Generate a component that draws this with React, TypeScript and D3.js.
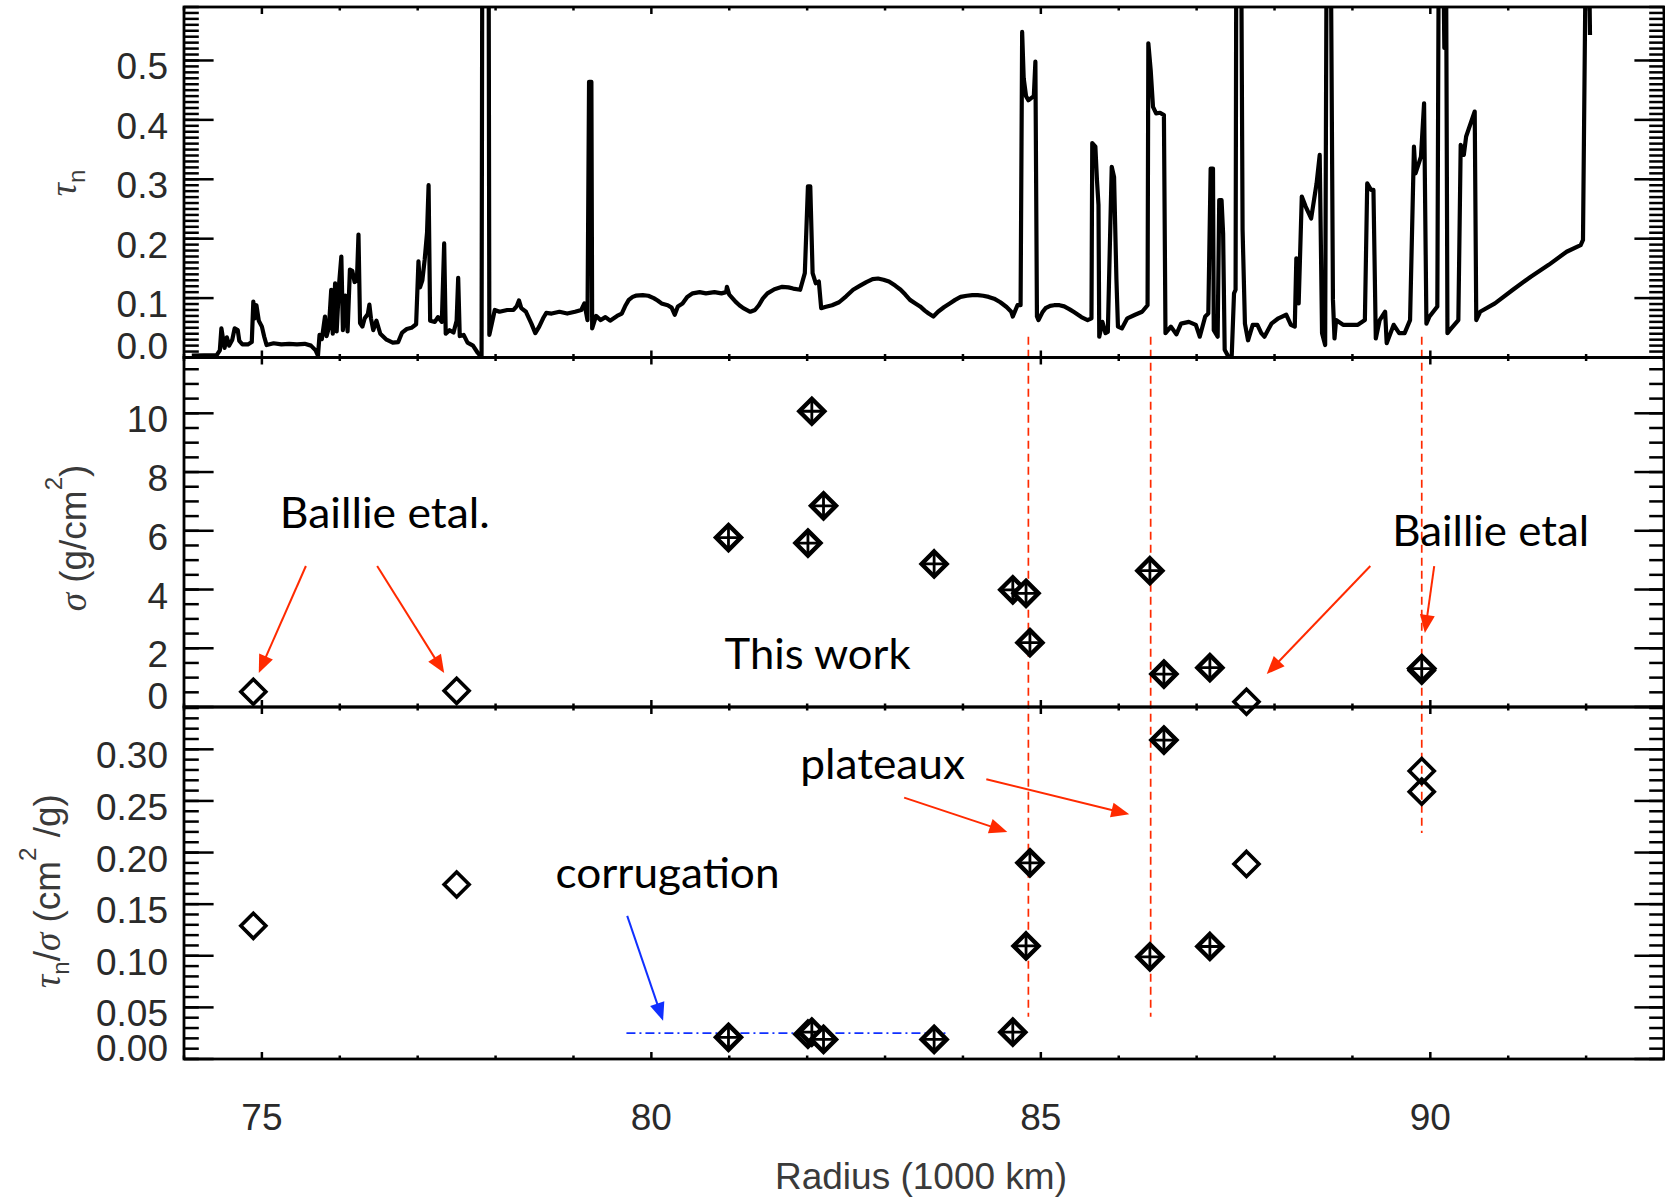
import React from 'react';
import * as d3 from 'd3';

// Normal optical depth profile across the ring: [radius (1000 km), tau_n]
// Values above the panel top are clipped by the plot frame.
const opticalDepthProfile: [number, number][] = [
  [74.10, 0.003], [74.42, 0.004], [74.46, 0.012], [74.48, 0.049], [74.52, 0.016],
  [74.55, 0.034], [74.58, 0.020], [74.62, 0.030], [74.65, 0.049], [74.69, 0.046],
  [74.71, 0.028], [74.75, 0.022], [74.82, 0.022], [74.87, 0.026], [74.89, 0.094],
  [74.91, 0.066], [74.93, 0.088], [74.96, 0.062], [75.00, 0.052], [75.03, 0.035],
  [75.06, 0.021], [75.15, 0.024], [75.25, 0.022], [75.35, 0.023], [75.45, 0.022],
  [75.55, 0.023], [75.63, 0.020], [75.69, 0.012], [75.72, 0.003], [75.74, 0.038],
  [75.77, 0.031], [75.81, 0.069], [75.83, 0.036], [75.86, 0.050], [75.89, 0.114],
  [75.91, 0.040], [75.94, 0.125], [75.96, 0.044], [75.99, 0.122], [76.02, 0.170],
  [76.04, 0.046], [76.07, 0.104], [76.10, 0.044], [76.13, 0.148], [76.16, 0.146],
  [76.19, 0.127], [76.22, 0.130], [76.24, 0.207], [76.26, 0.058], [76.29, 0.052],
  [76.32, 0.066], [76.36, 0.073], [76.38, 0.089], [76.40, 0.066], [76.43, 0.046],
  [76.47, 0.062], [76.52, 0.040], [76.60, 0.030], [76.68, 0.025], [76.75, 0.026],
  [76.80, 0.042], [76.86, 0.048], [76.92, 0.050], [76.98, 0.056], [77.01, 0.162],
  [77.03, 0.118], [77.06, 0.130], [77.09, 0.165], [77.12, 0.210], [77.14, 0.290],
  [77.16, 0.062], [77.22, 0.060], [77.26, 0.068], [77.31, 0.060], [77.34, 0.192],
  [77.36, 0.040], [77.41, 0.046], [77.46, 0.042], [77.50, 0.062], [77.52, 0.134],
  [77.54, 0.036], [77.59, 0.038], [77.64, 0.025], [77.71, 0.020], [77.77, 0.008],
  [77.82, 0.000], [77.83, 0.750], [77.91, 0.750], [77.92, 0.038], [77.99, 0.080],
  [78.05, 0.077], [78.15, 0.080], [78.23, 0.080], [78.27, 0.086], [78.30, 0.096],
  [78.33, 0.083], [78.39, 0.077], [78.46, 0.057], [78.51, 0.041], [78.56, 0.052],
  [78.61, 0.066], [78.65, 0.075], [78.72, 0.074], [78.82, 0.077], [78.92, 0.074],
  [79.02, 0.077], [79.10, 0.080], [79.14, 0.091], [79.18, 0.063], [79.20, 0.464],
  [79.23, 0.464], [79.24, 0.049], [79.29, 0.070], [79.35, 0.063], [79.41, 0.068],
  [79.47, 0.062], [79.56, 0.070], [79.62, 0.074], [79.67, 0.088], [79.71, 0.097],
  [79.76, 0.102], [79.80, 0.104], [79.89, 0.105], [79.96, 0.104], [80.03, 0.100],
  [80.08, 0.096], [80.13, 0.091], [80.21, 0.088], [80.26, 0.084], [80.30, 0.072],
  [80.34, 0.086], [80.40, 0.091], [80.46, 0.102], [80.53, 0.108], [80.62, 0.110],
  [80.70, 0.108], [80.81, 0.110], [80.90, 0.108], [80.96, 0.110], [80.97, 0.119],
  [81.00, 0.106], [81.04, 0.100], [81.08, 0.094], [81.13, 0.088], [81.18, 0.083],
  [81.27, 0.077], [81.33, 0.080], [81.38, 0.088], [81.43, 0.099], [81.49, 0.108],
  [81.58, 0.115], [81.68, 0.119], [81.76, 0.118], [81.82, 0.116], [81.91, 0.114],
  [81.97, 0.142], [82.01, 0.288], [82.04, 0.288], [82.07, 0.142], [82.11, 0.125],
  [82.15, 0.128], [82.18, 0.083], [82.23, 0.085], [82.32, 0.088], [82.41, 0.093],
  [82.50, 0.103], [82.59, 0.114], [82.68, 0.121], [82.76, 0.127], [82.84, 0.132],
  [82.91, 0.133], [82.98, 0.131], [83.05, 0.128], [83.13, 0.121], [83.20, 0.114],
  [83.26, 0.106], [83.32, 0.097], [83.39, 0.091], [83.45, 0.086], [83.51, 0.079],
  [83.56, 0.074], [83.62, 0.069], [83.68, 0.077], [83.76, 0.085], [83.83, 0.091],
  [83.90, 0.097], [83.97, 0.102], [84.05, 0.104], [84.12, 0.105], [84.19, 0.105],
  [84.26, 0.104], [84.33, 0.102], [84.40, 0.099], [84.48, 0.093], [84.56, 0.085],
  [84.62, 0.077], [84.64, 0.069], [84.70, 0.088], [84.74, 0.088], [84.76, 0.548],
  [84.78, 0.470], [84.81, 0.440], [84.84, 0.433], [84.88, 0.437], [84.91, 0.440],
  [84.93, 0.498], [84.95, 0.069], [84.97, 0.063], [85.02, 0.076], [85.06, 0.083],
  [85.12, 0.087], [85.17, 0.088], [85.24, 0.088], [85.30, 0.086], [85.37, 0.081],
  [85.43, 0.076], [85.52, 0.068], [85.60, 0.063], [85.65, 0.066], [85.66, 0.361],
  [85.70, 0.355], [85.72, 0.300], [85.74, 0.257], [85.75, 0.035], [85.79, 0.060],
  [85.83, 0.041], [85.86, 0.043], [85.91, 0.321], [85.94, 0.304], [85.97, 0.133],
  [85.99, 0.052], [86.04, 0.049], [86.11, 0.066], [86.21, 0.072], [86.30, 0.077],
  [86.37, 0.088], [86.38, 0.529], [86.41, 0.484], [86.44, 0.422], [86.48, 0.411],
  [86.53, 0.412], [86.58, 0.408], [86.60, 0.041], [86.67, 0.052], [86.74, 0.039],
  [86.80, 0.057], [86.90, 0.060], [86.99, 0.055], [87.04, 0.035], [87.11, 0.069],
  [87.15, 0.074], [87.18, 0.318], [87.21, 0.318], [87.22, 0.046], [87.27, 0.035],
  [87.29, 0.265], [87.32, 0.265], [87.34, 0.209], [87.36, 0.013], [87.41, 0.001],
  [87.45, 0.001], [87.48, 0.108], [87.50, 0.114], [87.51, 0.750], [87.57, 0.750],
  [87.59, 0.215], [87.62, 0.057], [87.66, 0.029], [87.72, 0.055], [87.78, 0.055],
  [87.83, 0.041], [87.87, 0.035], [87.96, 0.057], [88.05, 0.066], [88.15, 0.072],
  [88.21, 0.055], [88.26, 0.052], [88.28, 0.167], [88.31, 0.091], [88.35, 0.271],
  [88.40, 0.254], [88.47, 0.234], [88.54, 0.293], [88.58, 0.341], [88.61, 0.041],
  [88.65, 0.021], [88.67, 0.750], [88.72, 0.750], [88.75, 0.097], [88.77, 0.032],
  [88.79, 0.063], [88.88, 0.055], [88.98, 0.055], [89.07, 0.055], [89.16, 0.063],
  [89.19, 0.293], [89.24, 0.282], [89.27, 0.282], [89.30, 0.032], [89.35, 0.063],
  [89.42, 0.077], [89.44, 0.024], [89.53, 0.055], [89.60, 0.041], [89.67, 0.041],
  [89.74, 0.063], [89.79, 0.355], [89.81, 0.310], [89.88, 0.338], [89.92, 0.428],
  [89.95, 0.057], [89.99, 0.069], [90.09, 0.086], [90.11, 0.750], [90.16, 0.750],
  [90.18, 0.521], [90.20, 0.750], [90.22, 0.041], [90.25, 0.046], [90.36, 0.063],
  [90.39, 0.358], [90.43, 0.341], [90.46, 0.372], [90.57, 0.414], [90.59, 0.063],
  [90.64, 0.077], [90.83, 0.091], [91.06, 0.114], [91.29, 0.136], [91.52, 0.156],
  [91.75, 0.178], [91.93, 0.189], [91.96, 0.198], [92.00, 0.750], [92.03, 0.750],
  [92.05, 0.543],
];

// Surface density estimates from this work
const workRadius = [80.99, 82.01, 82.06, 82.21, 83.63, 84.64, 84.81, 84.86, 86.40, 86.58, 87.17, 89.89];
const workSigma = [5.77, 5.58, 10.07, 6.85, 4.87, 3.99, 3.87, 2.19, 4.64, 1.12, 1.34, 1.31];
const workRatio: (number | null)[] = [0.021, 0.024, 0.026, 0.019, 0.019, 0.026, 0.1095, 0.19, 0.099, 0.309, 0.109, null];

// Baillie et al. values
const baillieRadius = [74.89, 77.50, 87.64, 89.89, 89.89];
const baillieSigma = [0.52, 0.55, 0.18, 1.30, 1.24];
const baillieRatio = [0.129, 0.169, 0.189, 0.279, 0.259];

// Plateau radii and corrugation band
const plateauRadii = [84.84, 86.41, 89.89];
const plateauLineEnds = [0.041, 0.041, 0.219];
const corrugationBand = { from: 79.68, to: 83.81, ratio: 0.025 };

// Tick values
const radiusMajorTicks = [75, 80, 85, 90];
const tauMajorTicks = [0, 0.1, 0.2, 0.3, 0.4, 0.5];
const sigmaMajorTicks = [0, 2, 4, 6, 8, 10];
const ratioMajorTicks = [0, 0.05, 0.1, 0.15, 0.2, 0.25, 0.3];

const W = 1665;
const H = 1199;
const LEFT = 184;
const RIGHT = 1664;
const P1 = [7, 357.5];
const P2 = [357.5, 707];
const P3 = [707, 1059];

const NUM_FONT = '"Liberation Sans", Arial, Helvetica, sans-serif';
const NOTE_FONT = 'Lato, "Open Sans", sans-serif';
const GREEK_FONT = '"Liberation Serif", "DejaVu Serif", serif';
const RED = '#ff2a00';
const BLUE = '#1030ff';

const x = d3.scaleLinear().domain([74, 93]).range([LEFT, RIGHT]);
const yTau = d3.scaleLinear().domain([0, 0.59]).range([P1[1], P1[0]]);
const ySigma = d3.scaleLinear().domain([0, 11.9]).range([P2[1], P2[0]]);
const yRatio = d3.scaleLinear().domain([0, 0.341]).range([P3[1], P3[0]]);

const xMinor = d3.range(74, 93.001, 1);

function diamondPath(r: number) {
  return `M0,${-r}L${r},0L0,${r}L${-r},0Z`;
}
function plusPath(r: number) {
  return `M0,${-r}V${r}M${-r},0H${r}`;
}

function Arrow({ x1, y1, x2, y2, color, width = 2 }: any) {
  const dx = x2 - x1;
  const dy = y2 - y1;
  const len = Math.hypot(dx, dy);
  const ux = dx / len;
  const uy = dy / len;
  const L = 18;
  const hw = 7.5;
  const bx = x2 - ux * L;
  const by = y2 - uy * L;
  const pts = [
    [x2, y2],
    [bx - uy * hw, by + ux * hw],
    [bx + uy * hw, by - ux * hw],
  ];
  return (
    <g>
      <line x1={x1} y1={y1} x2={bx + ux * 2} y2={by + uy * 2} stroke={color} strokeWidth={width} />
      <polygon points={pts.map((p) => p.join(',')).join(' ')} fill={color} />
    </g>
  );
}

function Panel({ yScale, top, bottom, majors, minorStep, fmt, lowLabelUp }: any) {
  const [d0, d1] = yScale.domain();
  const minors = d3.range(d0, d1 + 1e-9, minorStep);
  const yTickMajor = 29.6;
  const yTickMinor = 14.8;
  const xTickMajor = 7;
  const xTickMinor = 3.5;
  return (
    <g>
      {minors.map((v: number, i: number) => (
        <g key={'ym' + i}>
          <line x1={LEFT} x2={LEFT + yTickMinor} y1={yScale(v)} y2={yScale(v)} stroke="#000" strokeWidth={2.5} />
          <line x1={RIGHT} x2={RIGHT - yTickMinor} y1={yScale(v)} y2={yScale(v)} stroke="#000" strokeWidth={2.5} />
        </g>
      ))}
      {majors.map((v: number, i: number) => (
        <g key={'yM' + i}>
          <line x1={LEFT} x2={LEFT + yTickMajor} y1={yScale(v)} y2={yScale(v)} stroke="#000" strokeWidth={2.5} />
          <line x1={RIGHT} x2={RIGHT - yTickMajor} y1={yScale(v)} y2={yScale(v)} stroke="#000" strokeWidth={2.5} />
          <text
            x={168}
            y={i === 0 && lowLabelUp ? yScale(v) + 1.5 : yScale(v) + 19}
            textAnchor="end"
            fontFamily={NUM_FONT}
            fontSize={37}
            fill="#2a2a2a"
          >
            {fmt(v)}
          </text>
        </g>
      ))}
      {xMinor.map((v: number, i: number) => {
        const len = radiusMajorTicks.includes(v) ? xTickMajor : xTickMinor;
        return (
          <g key={'xt' + i}>
            <line x1={x(v)} x2={x(v)} y1={bottom} y2={bottom - len} stroke="#000" strokeWidth={2.5} />
            <line x1={x(v)} x2={x(v)} y1={top} y2={top + len} stroke="#000" strokeWidth={2.5} />
          </g>
        );
      })}
      <rect x={LEFT} y={top} width={RIGHT - LEFT} height={bottom - top} fill="none" stroke="#000" strokeWidth={2.8} />
    </g>
  );
}

function CrossDiamond({ cx, cy }: any) {
  return (
    <g transform={`translate(${cx},${cy})`}>
      <path d={diamondPath(12.5)} fill="#fff" stroke="#000" strokeWidth={4.4} strokeLinejoin="miter" />
      <path d={plusPath(11)} stroke="#000" strokeWidth={2.8} fill="none" />
    </g>
  );
}

function OpenDiamond({ cx, cy }: any) {
  return (
    <g transform={`translate(${cx},${cy})`}>
      <path d={diamondPath(12.5)} fill="none" stroke="#000" strokeWidth={3.6} strokeLinejoin="miter" />
    </g>
  );
}

export default function App() {
  const line = d3
    .line<[number, number]>()
    .x((d) => x(d[0]))
    .y((d) => yTau(d[1]));

  const noteSize = 43;

  return (
    <svg
      width={W}
      height={H}
      viewBox={`0 0 ${W} ${H}`}
      style={{ position: 'absolute', left: 0, top: 0, background: '#fff' }}
    >
      <defs>
        <clipPath id="tauClip">
          <rect x={LEFT} y={P1[0]} width={RIGHT - LEFT} height={P1[1] - P1[0]} />
        </clipPath>
      </defs>
      <rect x={0} y={0} width={W} height={H} fill="#fff" />

      {/* optical depth profile */}
      <path
        d={line(opticalDepthProfile) || ''}
        fill="none"
        stroke="#000"
        strokeWidth={4.2}
        strokeLinejoin="round"
        clipPath="url(#tauClip)"
      />

      {/* plateau markers */}
      {plateauRadii.map((r, i) => (
        <line
          key={'pl' + i}
          x1={x(r)}
          x2={x(r)}
          y1={yTau(0.035)}
          y2={yRatio(plateauLineEnds[i])}
          stroke={RED}
          strokeWidth={1.7}
          strokeDasharray="8,5"
        />
      ))}

      {/* corrugation band */}
      <line
        x1={x(corrugationBand.from)}
        x2={x(corrugationBand.to)}
        y1={yRatio(corrugationBand.ratio)}
        y2={yRatio(corrugationBand.ratio)}
        stroke={BLUE}
        strokeWidth={1.7}
        strokeDasharray="9,4,2,4"
      />

      <Panel yScale={yTau} top={P1[0]} bottom={P1[1]} majors={tauMajorTicks} minorStep={0.01} fmt={d3.format('.1f')} lowLabelUp />
      <Panel yScale={ySigma} top={P2[0]} bottom={P2[1]} majors={sigmaMajorTicks} minorStep={0.5} fmt={d3.format('d')} lowLabelUp />
      <Panel yScale={yRatio} top={P3[0]} bottom={P3[1]} majors={ratioMajorTicks} minorStep={0.01} fmt={d3.format('.2f')} lowLabelUp />

      {/* surface density */}
      {baillieRadius.map((r, i) => (
        <OpenDiamond key={'bs' + i} cx={x(r)} cy={ySigma(baillieSigma[i])} />
      ))}
      {workRadius.map((r, i) => (
        <CrossDiamond key={'ws' + i} cx={x(r)} cy={ySigma(workSigma[i])} />
      ))}

      {/* opacity ratio */}
      {baillieRadius.map((r, i) => (
        <OpenDiamond key={'br' + i} cx={x(r)} cy={yRatio(baillieRatio[i])} />
      ))}
      {workRadius.map((r, i) =>
        workRatio[i] == null ? null : <CrossDiamond key={'wr' + i} cx={x(r)} cy={yRatio(workRatio[i] as number)} />
      )}

      {/* x axis labels */}
      {radiusMajorTicks.map((v) => (
        <text key={'xl' + v} x={x(v)} y={1130} textAnchor="middle" fontFamily={NUM_FONT} fontSize={37} fill="#2a2a2a">
          {v}
        </text>
      ))}
      <text x={(LEFT + RIGHT) / 2 - 3} y={1189} textAnchor="middle" fontFamily={NUM_FONT} fontSize={37} fill="#3a3a3a">
        Radius (1000 km)
      </text>

      {/* y axis titles */}
      <text transform="translate(76,183) rotate(-90)" textAnchor="middle" fontFamily={NUM_FONT} fontSize={37} fill="#3a3a3a">
        <tspan fontFamily={GREEK_FONT} fontStyle="italic">τ</tspan>
        <tspan fontSize={24} dy={9}>n</tspan>
      </text>
      <text transform="translate(86,538) rotate(-90)" textAnchor="middle" fontFamily={NUM_FONT} fontSize={37} fill="#3a3a3a">
        <tspan fontFamily={GREEK_FONT} fontStyle="italic">σ</tspan>
        <tspan> (g/cm</tspan>
        <tspan fontSize={24} dy={-24}>2</tspan>
        <tspan dy={24}>)</tspan>
      </text>
      <text transform="translate(60,891) rotate(-90)" textAnchor="middle" fontFamily={NUM_FONT} fontSize={37} fill="#3a3a3a">
        <tspan fontFamily={GREEK_FONT} fontStyle="italic">τ</tspan>
        <tspan fontSize={24} dy={9}>n</tspan>
        <tspan dy={-9}>/</tspan>
        <tspan fontFamily={GREEK_FONT} fontStyle="italic">σ</tspan>
        <tspan> (cm</tspan>
        <tspan fontSize={24} dy={-24}>2</tspan>
        <tspan dy={24}> /g)</tspan>
      </text>

      {/* annotations */}
      <text x={x(75.23)} y={ySigma(6.09)} fontFamily={NOTE_FONT} fontSize={noteSize} textLength={210} lengthAdjust="spacingAndGlyphs">
        Baillie etal.
      </text>
      <text x={x(80.94)} y={ySigma(1.29)} fontFamily={NOTE_FONT} fontSize={noteSize} textLength={186} lengthAdjust="spacingAndGlyphs">
        This work
      </text>
      <text x={x(89.51)} y={ySigma(5.48)} fontFamily={NOTE_FONT} fontSize={noteSize} textLength={197} lengthAdjust="spacingAndGlyphs">
        Baillie etal
      </text>
      <text x={x(81.91)} y={yRatio(0.2713)} fontFamily={NOTE_FONT} fontSize={noteSize} textLength={165} lengthAdjust="spacingAndGlyphs">
        plateaux
      </text>
      <text x={x(78.77)} y={yRatio(0.1657)} fontFamily={NOTE_FONT} fontSize={noteSize} textLength={224} lengthAdjust="spacingAndGlyphs">
        corrugation
      </text>

      <Arrow x1={x(75.565)} y1={ySigma(4.8)} x2={x(74.96)} y2={ySigma(1.16)} color={RED} />
      <Arrow x1={x(76.48)} y1={ySigma(4.8)} x2={x(77.34)} y2={ySigma(1.16)} color={RED} />
      <Arrow x1={x(89.23)} y1={ySigma(4.8)} x2={x(87.9)} y2={ySigma(1.12)} color={RED} />
      <Arrow x1={x(90.05)} y1={ySigma(4.8)} x2={x(89.93)} y2={ySigma(2.52)} color={RED} />
      <Arrow x1={x(83.245)} y1={yRatio(0.2532)} x2={x(84.57)} y2={yRatio(0.22)} color={RED} />
      <Arrow x1={x(84.3)} y1={yRatio(0.271)} x2={x(86.135)} y2={yRatio(0.237)} color={RED} />
      <Arrow x1={x(79.69)} y1={yRatio(0.1386)} x2={x(80.15)} y2={yRatio(0.0371)} color={BLUE} />
    </svg>
  );
}
